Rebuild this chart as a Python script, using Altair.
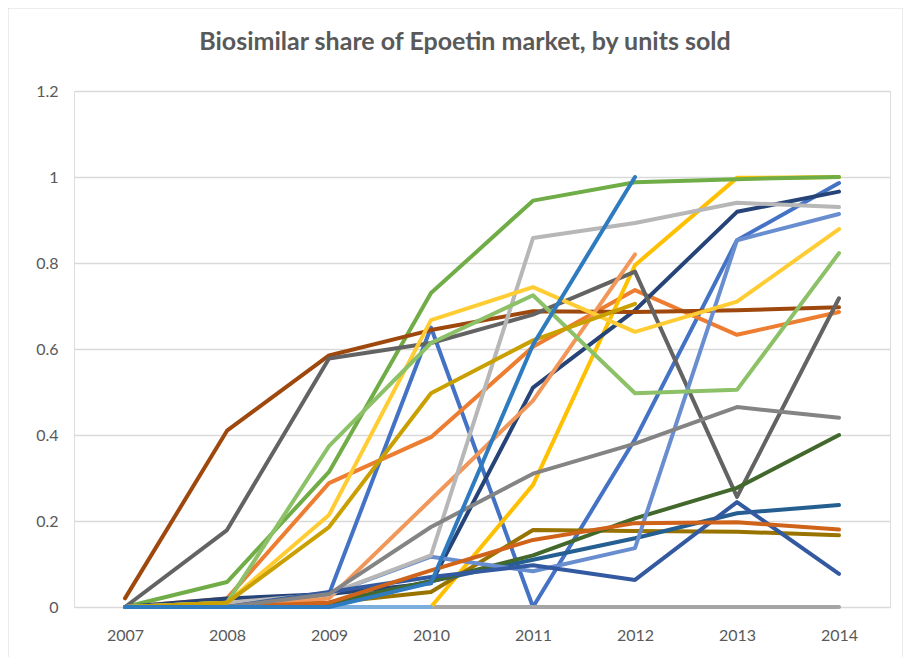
import altair as alt
import pandas as pd

years = ["2007", "2008", "2009", "2010", "2011", "2012", "2013", "2014"]

# series values (share of units sold), in Excel series order
s01 = [0, 0, 0.03, 0.65, 0.0, 0.39, 0.853, 0.986]
s02 = [0, 0.02, 0.288, 0.395, 0.605, 0.737, 0.633, 0.686]
s03 = [0, 0, 0, 0, 0, 0, 0, 0]
s04 = [0, 0, 0, 0.0, 0.284, 0.795, 0.998, 1.0]
s06 = [0, 0.058, 0.314, 0.73, 0.945, 0.988, 0.995, 1.0]
s07 = [0, 0.02, 0.03, 0.055, 0.51, 0.69, 0.919, 0.966]
s08 = [0.02, 0.41, 0.585, 0.644, 0.688, 0.686, 0.69, 0.697]
s09 = [0, 0.179, 0.578, 0.614, 0.68, 0.78, 0.256, 0.718]
s10 = [0, 0, 0.01, 0.035, 0.179, 0.177, 0.175, 0.167]
s11 = [0, 0, 0.01, 0.06, 0.11, 0.16, 0.218, 0.237]
s12 = [0, 0, 0.01, 0.06, 0.12, 0.206, 0.277, 0.40]
s13 = [0, 0, 0.03, 0.117, 0.083, 0.137, 0.853, 0.914]
s14 = [0, 0, 0.02, 0.25, 0.48, 0.82, None, None]
s15 = [0, 0.01, 0.03, 0.12, 0.858, 0.893, 0.94, 0.93]
s16 = [0, 0.01, 0.214, 0.667, 0.744, 0.64, 0.71, 0.879]
s17 = [0, 0, 0, 0, None, None, None, None]
s18 = [0, 0.01, 0.374, 0.614, 0.725, 0.497, 0.505, 0.823]
s19 = [0, 0, 0.035, 0.07, 0.097, 0.063, 0.244, 0.077]
s20 = [0, 0, 0.01, 0.085, 0.156, 0.195, 0.197, 0.18]
s21 = [0, 0, 0.03, 0.186, 0.31, 0.38, 0.465, 0.44]
s22 = [0, 0.01, 0.186, 0.497, 0.62, 0.705, None, None]
s23 = [0, 0, 0.0, 0.056, 0.61, 1.0, None, None]

series = {
    "s01": (s01, "#4472C4"), "s02": (s02, "#ED7D31"), "s03": (s03, "#A5A5A5"),
    "s04": (s04, "#FFC000"), "s06": (s06, "#70AD47"), "s07": (s07, "#264478"),
    "s08": (s08, "#9E480E"), "s09": (s09, "#636363"), "s10": (s10, "#997300"),
    "s11": (s11, "#255E91"), "s12": (s12, "#43682B"), "s13": (s13, "#698ED0"),
    "s14": (s14, "#F1975A"), "s15": (s15, "#B7B7B7"), "s16": (s16, "#FFCD33"),
    "s17": (s17, "#7CAFDD"), "s18": (s18, "#8CC168"), "s19": (s19, "#335AA1"),
    "s20": (s20, "#D0631A"), "s21": (s21, "#848484"), "s22": (s22, "#C9A000"),
    "s23": (s23, "#2E7BC0"),
}

rows = []
for i, (name, (vals, _)) in enumerate(series.items()):
    for y, v in zip(years, vals):
        if v is not None:
            rows.append({"series": name, "order": i, "year": y, "share": v})
df = pd.DataFrame(rows)

names = list(series.keys())
colors = [c for _, c in series.values()]

lines = alt.Chart(df).mark_line(strokeWidth=4, strokeCap="round", strokeJoin="round").encode(
    x=alt.X("year:O", title=None, scale=alt.Scale(padding=0.5),
            axis=alt.Axis(labelAngle=0, domain=False, ticks=False, grid=False,
                          labelFont="Lato", labelFontSize=16, labelColor="#595959",
                          labelPadding=20)),
    y=alt.Y("share:Q", title=None, scale=alt.Scale(domain=[0, 1.2], nice=False),
            axis=alt.Axis(values=[0, 0.2, 0.4, 0.6, 0.8, 1.0, 1.2], format=".1~f",
                          domain=False, ticks=False, gridColor="#D9D9D9", gridWidth=1.3,
                          labelFont="Lato", labelFontSize=16, labelColor="#595959",
                          labelPadding=16)),
    color=alt.Color("series:N", scale=alt.Scale(domain=names, range=colors), legend=None),
    order=alt.Order("order:Q"),
)

frame = alt.Chart(pd.DataFrame({"a": [0]})).mark_rect(
    fill=None, stroke="#D9D9D9", strokeWidth=1, clip=False
).encode(x=alt.value(-66), x2=alt.value(829), y=alt.value(-83), y2=alt.value(600))

chart = alt.layer(frame, lines).properties(
    width=816, height=516,
    title=alt.TitleParams("Biosimilar share of Epoetin market, by units sold",
                          font="Lato", fontSize=25, fontWeight="bold", color="#595959",
                          anchor="middle", frame="group", offset=-47, dx=-17),
    autosize=alt.AutoSizeParams(type="none"),
    padding={"left": 66, "top": 83, "right": 13, "bottom": 50},
).configure_view(stroke=None).configure(background="white")

chart.save("out.html", embed_options={"renderer": "svg", "actions": False})
